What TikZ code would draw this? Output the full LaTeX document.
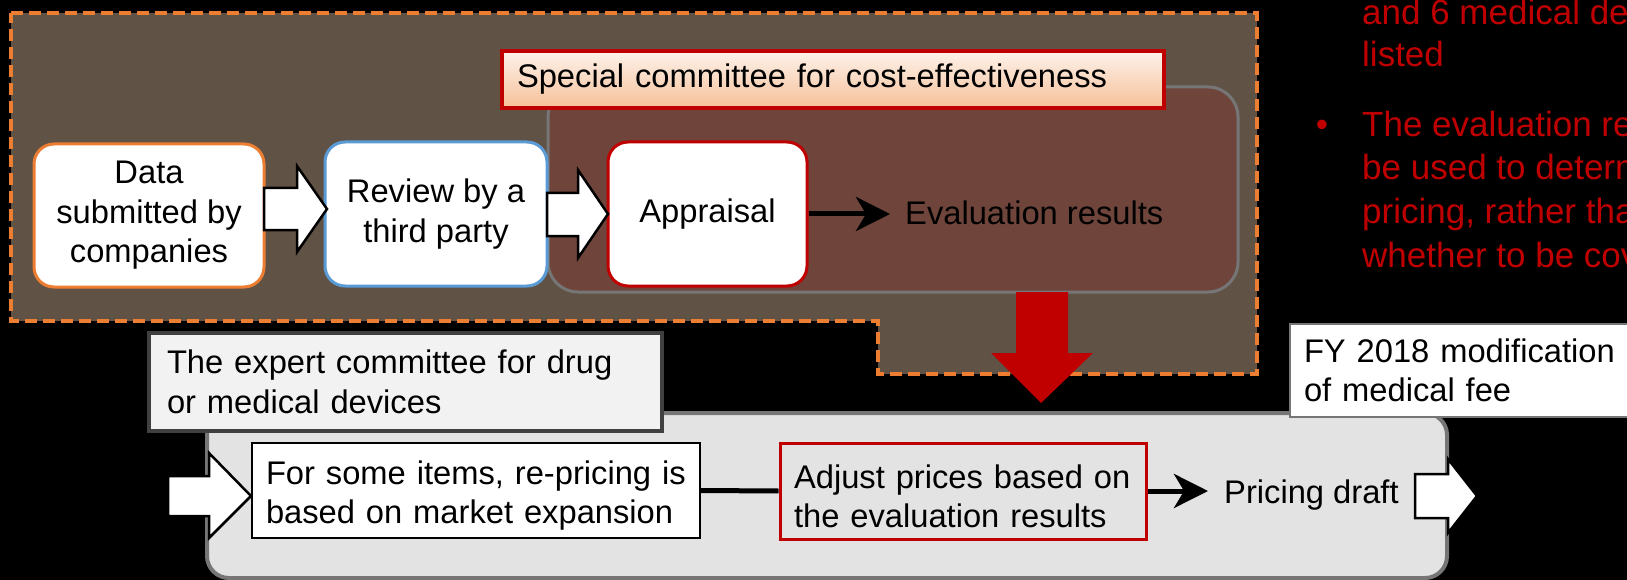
\documentclass[tikz,border=0pt]{standalone}
\usepackage{fontspec}
\setmainfont{Liberation Sans}
\usetikzlibrary{arrows.meta}
\definecolor{orangeC}{RGB}{237,125,49}
\definecolor{blueC}{RGB}{91,155,213}
\definecolor{redC}{RGB}{192,0,0}
\definecolor{dashFill}{RGB}{97,82,70}
\definecolor{specFill}{RGB}{111,68,59}
\definecolor{midGray}{RGB}{118,118,118}
\definecolor{lightGray}{RGB}{227,227,227}
\definecolor{paleGray}{RGB}{242,242,242}
\definecolor{darkGray}{RGB}{64,64,64}
\definecolor{peachC}{RGB}{246,192,152}
\definecolor{peachTop}{RGB}{253,242,235}
\newcommand\diafont{\fontsize{32.7}{39.5}\selectfont}
\newcommand\redfont{\fontsize{35}{43}\selectfont}
\newcommand\oneline[1]{\mbox{#1}}
\newcommand\lowerstrut{\rule{0pt}{34pt}}
\begin{document}
\begin{tikzpicture}[x=1pt,y=-1pt,
  topbox/.style={rounded corners=20pt, fill=white, line width=3pt, align=center, inner sep=0pt, font=\diafont},
  lblbox/.style={align=left, inner ysep=0pt, font=\diafont},
  blockarrow/.style={fill=white, draw=black, line width=2.5pt, line join=miter},
  conn/.style={line width=5pt, -{Stealth[length=34pt, width=34pt, inset=10pt]}},
  plaintext/.style={anchor=base west, inner sep=0pt, font=\diafont},
  redtext/.style={anchor=base west, inner sep=0pt, font=\redfont, text=redC}]
\useasboundingbox (0,0) rectangle (1627,580);
\fill[black] (0,0) rectangle (1627,580);
\begin{scope}
\clip (0,0) rectangle (1627,580);
% dashed region
\draw[fill=dashFill, draw=orangeC, line width=3.5pt, dash pattern=on 12pt off 6pt]
  (11,13) -- (1257,13) -- (1257,374) -- (878,374) -- (878,321) -- (11,321) -- cycle;
% special committee area
\node[draw=midGray, fill=specFill, line width=3pt, rounded corners=30pt,
  minimum width=690pt, minimum height=205pt, inner sep=0pt] (specarea) at (893,189.5) {};
\node[lblbox, top color=peachTop, bottom color=peachC, draw=redC, line width=4pt,
  text width=632pt, inner xsep=15pt, minimum height=57pt] (speclbl) at (833,79.5)
  {Special committee for cost-effectiveness};
% top row
\node[topbox, draw=orangeC, minimum width=230pt, minimum height=143pt] (data) at (149,215.5)
  {Data\\submitted by\\companies};
\node[topbox, draw=blueC, minimum width=222pt, minimum height=144pt] (review) at (436,214)
  {Review by a\\third party};
\node[topbox, draw=redC, minimum width=199pt, minimum height=144pt] (appr) at (707.5,214)
  {Appraisal};
\draw[blockarrow] (264,188) -- (297,188) -- (297,166) -- (327,209) -- (297,252) -- (297,230) -- (264,230) -- cycle;
\draw[blockarrow] (547,193) -- (578,193) -- (578,170) -- (608,214) -- (578,258) -- (578,236) -- (547,236) -- cycle;
\node[plaintext] (eval) at (905,224) {Evaluation results};
\draw[conn, shorten >=15pt] (appr.east) -- (appr.east -| eval.west);
% bottom area
\node[draw=midGray, fill=lightGray, line width=4pt, rounded corners=22pt,
  minimum width=1240pt, minimum height=165pt, inner sep=0pt] (bottomarea) at (827,495.5) {};
\node[lblbox, draw=darkGray, fill=paleGray, line width=4pt, text width=477pt, inner xsep=18pt,
  minimum height=98pt] (expert) at (405.5,382)
  {\oneline{The expert committee for drug}\\\oneline{or medical devices}};
\node[lblbox, draw=midGray, fill=white, line width=2pt, text width=322pt, inner xsep=14pt,
  minimum height=93pt] (fy) at (1465,370.5)
  {\oneline{FY 2018 modification}\\\oneline{of medical fee}};
\node[lblbox, draw=black, fill=white, line width=2pt, text width=420pt, inner xsep=14pt,
  minimum height=95pt] (forsome) at (476,490.5)
  {\oneline{\lowerstrut For some items, re-pricing is}\\\oneline{based on market expansion}};
\node[lblbox, draw=redC, fill=lightGray, line width=3pt, text width=338pt, inner xsep=14pt,
  minimum height=96pt] (adjust) at (963,491)
  {\oneline{\lowerstrut Adjust prices based on}\\\oneline{the evaluation results}};
\draw[line width=5pt] (forsome.east) -- (adjust.west);
\node[plaintext] (price) at (1224,503) {Pricing draft};
\draw[conn, shorten >=16pt] (adjust.east) -- (adjust.east -| price.west);
\draw[blockarrow] (168,476) -- (209,476) -- (209,453) -- (251,496) -- (209,538) -- (209,516) -- (168,516) -- cycle;
\draw[blockarrow] (1415,474) -- (1448,474) -- (1448,459) -- (1477,496) -- (1448,533) -- (1448,518) -- (1415,518) -- cycle;
% red down arrow
\fill[redC] (1016,292) -- (1068,292) -- (1068,353) -- (1093,353) -- (1041,403) -- (991,353) -- (1016,353) -- cycle;
% red text at right
\node[redtext] (r1) at (1362,25) {and 6 medical devices are};
\node[redtext] (r2) at (1362,67) {listed};
\node[anchor=base, inner sep=0pt, font=\redfont, text=redC] (bul) at (1322,137) {•};
\node[redtext] (r3) at (1362,137) {The evaluation results will};
\node[redtext] (r4) at (1362,180) {be used to determine};
\node[redtext] (r5) at (1362,223) {pricing, rather than};
\node[redtext] (r6) at (1362,267) {whether to be covered};
\end{scope}
\end{tikzpicture}
\end{document}
